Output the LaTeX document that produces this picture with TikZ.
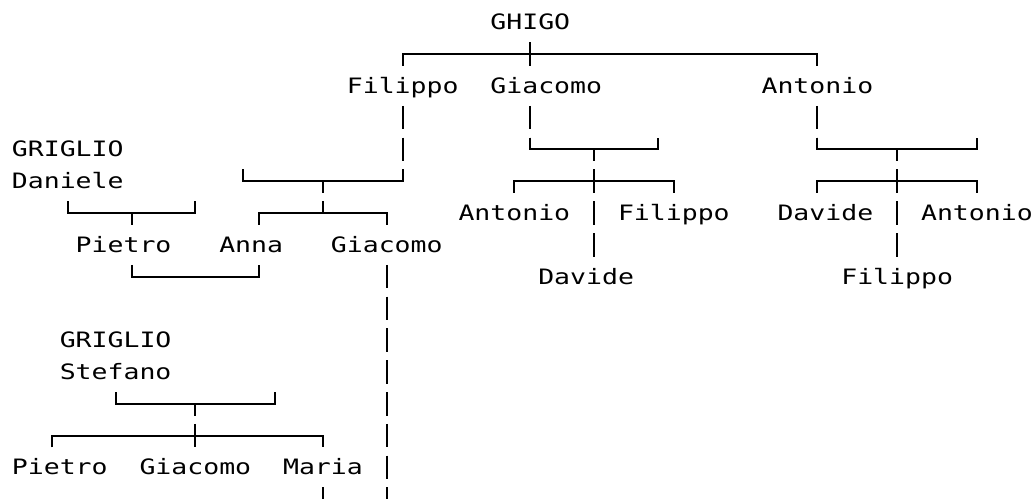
\documentclass[tikz,border=0pt]{standalone}
\usepackage{fontspec}
\usepackage{tikz}
\newfontfamily\treefont[FakeStretch=1.25]{DejaVu Sans Mono}

\begin{document}
\begin{tikzpicture}[
  x=15.95pt, y=-31.8pt,
  person/.style={inner sep=0pt, anchor=base, yshift=-7.5pt,
    font=\treefont\fontsize{21.2pt}{25pt}\selectfont},
  bar/.style={line width=2pt},
  vbar/.style={bar, dash pattern=on 23.5pt off 8.3pt},
  vbarc/.style={vbar, dash phase=11.75pt}
]
\useasboundingbox (-1.2476,-0.6981) rectangle (63.706,14.9937);
% ghigo and sons
\node[person] (ghigo) at (32,0) {GHIGO};
\node[person] (filippo) at (24,2) {Filippo};
\node[person] (giacomo) at (33,2) {Giacomo};
\node[person] (antonio) at (50,2) {Antonio};
% griglio daniele branch
\node[person] (grigD) at (3,4) {GRIGLIO};
\node[person] (daniele) at (3,5) {Daniele};
\node[person] (pietro) at (6.5,7) {Pietro};
\node[person] (anna) at (14.5,7) {Anna};
\node[person] (giacomoF) at (23,7) {Giacomo};
% children of giacomo and antonio
\node[person] (antonioG) at (31,6) {Antonio};
\node[person] (filippoG) at (41,6) {Filippo};
\node[person] (davideG) at (35.5,8) {Davide};
\node[person] (davideA) at (50.5,6) {Davide};
\node[person] (antonioA) at (60,6) {Antonio};
\node[person] (filippoA) at (55,8) {Filippo};
% griglio stefano branch
\node[person] (grigS) at (6,10) {GRIGLIO};
\node[person] (stefano) at (6,11) {Stefano};
\node[person] (pietroS) at (2.5,14) {Pietro};
\node[person] (giacomoS) at (11,14) {Giacomo};
\node[person] (maria) at (19,14) {Maria};

% bars
\draw[bar] (24,1.37) -- (24,1) -- (50,1) -- (50,1.37);
\draw[bar] (32,0.63) -- (32,1.37);
\draw[bar] (32,3.63) -- (32,4) -- (40,4) -- (40,3.63);
\draw[bar] (50,3.63) -- (50,4) -- (60,4) -- (60,3.63);
\draw[bar] (14,4.63) -- (14,5) -- (24,5) -- (24,4.63);
\draw[bar] (31,5.37) -- (31,5) -- (41,5) -- (41,5.37);
\draw[bar] (50,5.37) -- (50,5) -- (60,5) -- (60,5.37);
\draw[bar] (3,5.63) -- (3,6) -- (11,6) -- (11,5.63);
\draw[bar] (7,6) -- (7,6.37);
\draw[bar] (15,6.37) -- (15,6) -- (23,6) -- (23,6.37);
\draw[bar] (7,7.63) -- (7,8) -- (15,8) -- (15,7.63);
\draw[bar] (6,11.63) -- (6,12) -- (16,12) -- (16,11.63);
\draw[bar] (2,13.37) -- (2,13) -- (19,13) -- (19,13.37);

% vertical runs
\draw[vbar] (24,2.63) -- (24,5);
\draw[vbar] (32,2.63) -- (32,4);
\draw[vbar] (50,2.63) -- (50,4);
\draw[vbarc] (36,4) -- (36,7.37);
\draw[vbarc] (55,4) -- (55,7.37);
\draw[vbarc] (19,5) -- (19,6);
\draw[vbar] (23,7.63) -- (23,14.99);
\draw[vbarc] (11,12) -- (11,13.37);
\draw[vbar] (19,14.63) -- (19,14.99);
\end{tikzpicture}
\end{document}
